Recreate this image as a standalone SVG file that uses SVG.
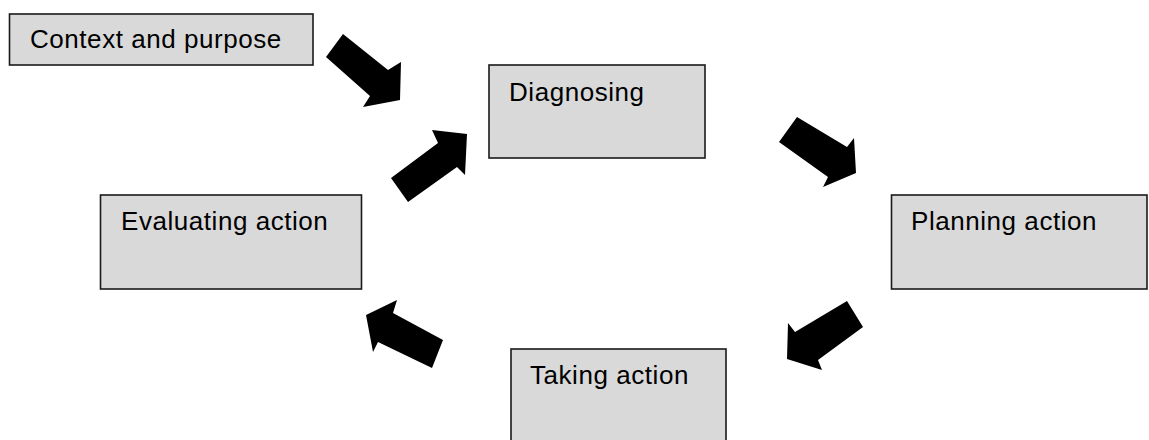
<svg xmlns="http://www.w3.org/2000/svg" width="1149" height="440" viewBox="0 0 1149 440">
  <style>
    .box { fill: #d9d9d9; stroke: #1a1a1a; stroke-width: 1.6; }
    .label { font-family: "Liberation Sans", Arial, sans-serif; font-size: 26px; letter-spacing: 0.55px; fill: #000; }
    .arrow { fill: #000; }
  </style>
  <rect width="1149" height="440" fill="#fff"/>

  <g id="context">
    <rect class="box" x="9.5" y="14" width="303.5" height="51"/>
    <text class="label" x="30" y="48">Context and purpose</text>
  </g>
  <g id="diagnosing">
    <rect class="box" x="489" y="65" width="216" height="93"/>
    <text class="label" x="509" y="101">Diagnosing</text>
  </g>
  <g id="planning">
    <rect class="box" x="891.5" y="195" width="255.5" height="94"/>
    <text class="label" x="911" y="230">Planning action</text>
  </g>
  <g id="taking">
    <rect class="box" x="511" y="349" width="215" height="100"/>
    <text class="label" x="530" y="384">Taking action</text>
  </g>
  <g id="evaluating">
    <rect class="box" x="100.5" y="195" width="261" height="94"/>
    <text class="label" x="121" y="230">Evaluating action</text>
  </g>

  <g id="connectors">
    <polygon class="arrow" points="343,34 388,70 401,62 400,100 363,107 370,96 326,57"/>
    <polygon class="arrow" points="391,178 438,143 432,130 467,134 465,175 457,167 408,202"/>
    <polygon class="arrow" points="797,117 847,147 854,138 856,173 823,187 828,177 779,142"/>
    <polygon class="arrow" points="847,301 863,327 818,360 822,370 787,359 788,323 795,332"/>
    <polygon class="arrow" points="443,340 393,313 397,300 366,315 373,352 378,342 432,368"/>
  </g>
</svg>
